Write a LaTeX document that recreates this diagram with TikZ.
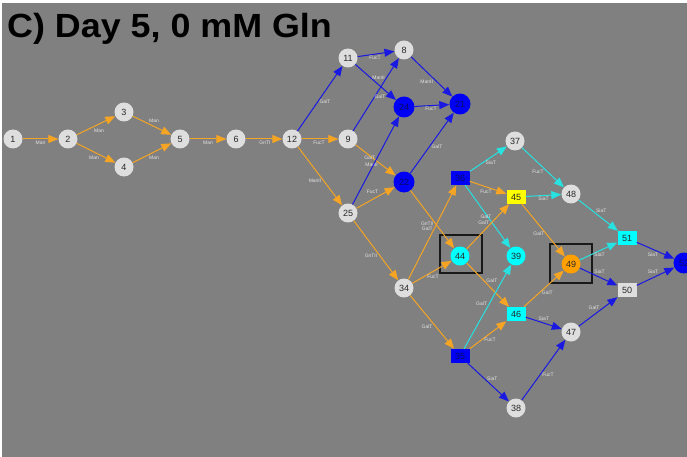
\documentclass[tikz,border=0pt]{standalone}
\usepackage{fontspec}
\setmainfont{Liberation Sans}
\usetikzlibrary{arrows.meta}
\definecolor{bg}{RGB}{128,128,128}
\definecolor{eorange}{RGB}{245,165,35}
\definecolor{eblue}{RGB}{25,25,225}
\definecolor{ecyan}{RGB}{40,225,225}
\definecolor{ngray}{RGB}{222,222,222}
\definecolor{nblue}{RGB}{0,0,245}
\definecolor{ncyan}{RGB}{0,255,255}
\definecolor{nyellow}{RGB}{255,255,0}
\definecolor{norange}{RGB}{255,160,0}
\definecolor{labc}{RGB}{228,228,228}
\definecolor{bluetxt}{RGB}{10,10,95}
\definecolor{ntxt}{RGB}{40,40,40}
\begin{document}
\begin{tikzpicture}[x=1pt,y=-1pt,
  circ/.style={circle, minimum size=19pt, inner sep=0pt, font=\fontsize{9}{9}\selectfont, text=ntxt},
  gnode/.style={circ, fill=ngray},
  bnode/.style={circ, fill=nblue, minimum size=21pt, text=bluetxt},
  cnode/.style={circ, fill=ncyan},
  onode/.style={circ, fill=norange},
  sq/.style={rectangle, minimum width=19pt, minimum height=14pt, inner sep=0pt, font=\fontsize{9}{9}\selectfont, text=ntxt},
  bsq/.style={sq, fill=nblue, text=bluetxt},
  csq/.style={sq, fill=ncyan},
  ysq/.style={sq, fill=nyellow},
  gsq/.style={sq, fill=ngray},
  edge/.style={-{Triangle[length=10pt,width=8pt]}, line width=1pt},
  eo/.style={edge, draw=eorange},
  eb/.style={edge, draw=eblue},
  ec/.style={edge, draw=ecyan},
  lab/.style={font=\fontsize{5}{5}\selectfont, text=labc, inner sep=0pt},
  hibox/.style={draw=black!90, line width=1.8pt},
  title/.style={font=\fontsize{33.5}{33.5}\selectfont\bfseries, text=black, anchor=west, inner sep=0pt, xscale=1.07}
]
\useasboundingbox (0,0) rectangle (687,457);
\fill[white] (0,0) rectangle (687,457);
\fill[bg] (2,3) rectangle (687,457);

\node[title] (title) at (7,29) {C) Day 5, 0 mM Gln};

% nodes
\node[gnode] (n1) at (13,139) {1};
\node[gnode] (n2) at (68,139) {2};
\node[gnode] (n3) at (124,112) {3};
\node[gnode] (n4) at (124,167) {4};
\node[gnode] (n5) at (180,139) {5};
\node[gnode] (n6) at (236,139) {6};
\node[gnode] (n12) at (292,139) {12};
\node[gnode] (n9) at (348,139) {9};
\node[gnode] (n11) at (348,58) {11};
\node[gnode] (n8) at (404,50) {8};
\node[bnode] (n24) at (404,107) {24};
\node[bnode] (n21) at (460,104) {21};
\node[bnode] (n22) at (404,182) {22};
\node[gnode] (n25) at (348,213) {25};
\node[bsq] (n36) at (460,178) {36};
\node[gnode] (n37) at (515,141) {37};
\node[ysq] (n45) at (516,197) {45};
\node[gnode] (n48) at (571,194) {48};
\node[cnode] (n44) at (460,256) {44};
\node[cnode] (n39) at (516,256) {39};
\node[gnode] (n34) at (404,288) {34};
\node[onode] (n49) at (571,264) {49};
\node[csq] (n51) at (627,238) {51};
\node[gsq] (n50) at (627,290) {50};
\node[bnode] (n52) at (684,263) {52};
\node[csq] (n46) at (516,314) {46};
\node[gnode] (n47) at (571,332) {47};
\node[bsq] (n35) at (460,356) {35};
\node[gnode] (n38) at (516,408) {38};

% highlight boxes
\draw[hibox] (440,235) rectangle (482,273);
\draw[hibox] (550,244) rectangle (592,283);

% edges
\draw[eo] (n1) -- node[lab, shift={(0,4)}] {Man} (n2);
\draw[eo] (n2) -- node[lab, shift={(3,5.5)}] {Man} (n3);
\draw[eo] (n2) -- node[lab, shift={(-2,5)}] {Man} (n4);
\draw[eo] (n3) -- node[lab, shift={(2,-4.5)}] {Man} (n5);
\draw[eo] (n4) -- node[lab, shift={(2,5)}] {Man} (n5);
\draw[eo] (n5) -- node[lab, shift={(0,3.5)}] {Man} (n6);
\draw[eo] (n6) -- node[lab, shift={(1,3.5)}] {GnTI} (n12);
\draw[eo] (n12) -- node[lab, shift={(-1,3.5)}] {FucT} (n9);
\draw[eb] (n12) -- node[lab, shift={(5,3.5)}] {GalT} (n11);
\draw[eo] (n12) -- node[lab, shift={(-5,5)}] {ManII} (n25);
\draw[eb] (n11) -- node[lab, shift={(-1,4)}] {FucT} (n8);
\draw[eb] (n11) -- node[lab, shift={(3,-4.5)}] {ManII} (n24);
\draw[eb] (n9) -- node[lab, shift={(4,2.5)}] {GalT} (n8);
\draw[eb] (n8) -- node[lab, shift={(-5,5)}] {ManII} (n21);
\draw[eb] (n24) -- node[lab, shift={(-1,3.5)}] {FucT} (n21);
\draw[eb] (n22) -- node[lab, shift={(5,4)}] {GalT} (n21);
\draw[eo] (n9) -- node[lab, shift={(-4,4.5)}] {ManII} (n22);
\draw[eb] (n25) -- node[lab, shift={(-6,-3)}] {GalT} (n24);
\draw[eo] (n25) -- node[lab, shift={(-3,-5.5)}] {FucT} (n22);
\draw[eo] (n25) -- node[lab, shift={(-5,5.5)}] {GnTII} (n34);
\draw[eo] (n22) -- node[lab, shift={(-5,4)}] {GnTII} (n44);
\draw[eo] (n34) -- node[lab, shift={(-5,-4)}] {GalT} (n36);
\draw[eo] (n34) -- node[lab, shift={(1,5)}] {FucT} (n44);
\draw[eo] (n34) -- node[lab, shift={(-5,5)}] {GalT} (n35);
\draw[ec] (n36) -- node[lab, shift={(2.5,3.5)}] {SiaT} (n37);
\draw[eo] (n36) -- node[lab, shift={(-2,4.5)}] {FucT} (n45);
\draw[ec] (n36) -- node[lab, shift={(-4,6)}] {GalT} (n39);
\draw[eo] (n44) -- node[lab, shift={(-2,-9.5)}] {GalT} (n45);
\draw[eo] (n44) -- node[lab, shift={(4,-4)}] {GalT} (n46);
\draw[ec] (n35) -- node[lab, shift={(-6,-3)}] {GalT} (n39);
\draw[eo] (n35) -- node[lab, shift={(2,5)}] {FucT} (n46);
\draw[eb] (n35) -- node[lab, shift={(4,-4)}] {SiaT} (n38);
\draw[ec] (n37) -- node[lab, shift={(-5,4.5)}] {FucT} (n48);
\draw[ec] (n45) -- node[lab, shift={(0,3.5)}] {SiaT} (n48);
\draw[eo] (n45) -- node[lab, shift={(-4.5,3.5)}] {GalT} (n49);
\draw[ec] (n48) -- node[lab, shift={(3,-5)}] {SiaT} (n51);
\draw[ec] (n49) -- node[lab, shift={(1,4)}] {SiaT} (n51);
\draw[eb] (n49) -- node[lab, shift={(1,-5)}] {SiaT} (n50);
\draw[eb] (n51) -- node[lab, shift={(-2.5,4.5)}] {SiaT} (n52);
\draw[eb] (n50) -- node[lab, shift={(-2.5,-4.5)}] {SiaT} (n52);
\draw[eb] (n46) -- node[lab, shift={(0,-4)}] {SiaT} (n47);
\draw[eo] (n46) -- node[lab, shift={(3.5,4)}] {GalT} (n49);
\draw[eb] (n47) -- node[lab, shift={(-4,-4)}] {GalT} (n50);
\draw[eb] (n38) -- node[lab, shift={(4.5,5)}] {FucT} (n47);
\end{tikzpicture}
\end{document}
